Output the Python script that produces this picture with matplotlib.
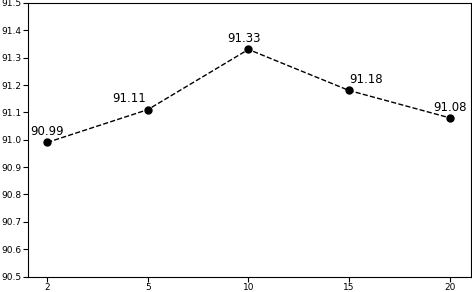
import matplotlib
matplotlib.use("Agg")
import matplotlib.pyplot as plt

categories = ["2", "5", "10", "15", "20"]
values = [90.99, 91.11, 91.33, 91.18, 91.08]
yticks = [90.5, 90.6, 90.7, 90.8, 90.9, 91.0, 91.1, 91.2, 91.3, 91.4, 91.5]

fig = plt.figure(figsize=(4.72, 2.92), dpi=100)
ax = fig.add_axes([0.0595, 0.053, 0.938, 0.937])
x = list(range(len(categories)))
ax.plot(x, values, linestyle="--", color="black", marker="o", markersize=5, linewidth=1)

offsets = [(0, 3, "center"), (-1, 3, "right"), (-3, 3, "center"), (0, 3, "left"), (0, 3, "center")]
for xi, v, (dx, dy, ha) in zip(x, values, offsets):
    ax.annotate(f"{v:.2f}", (xi, v), xytext=(dx, dy), textcoords="offset points",
                ha=ha, va="bottom", fontsize=8.5)

ax.set_xticks(x)
ax.set_xticklabels(categories)
ax.set_yticks(yticks)
ax.set_yticklabels([f"{t:.1f}" for t in yticks])
ax.set_xlim(-0.19, 4.21)
ax.set_ylim(90.5, 91.5)
ax.tick_params(labelsize=6.5, length=3.5, pad=1.5)
fig.savefig("out.png", dpi=100)
